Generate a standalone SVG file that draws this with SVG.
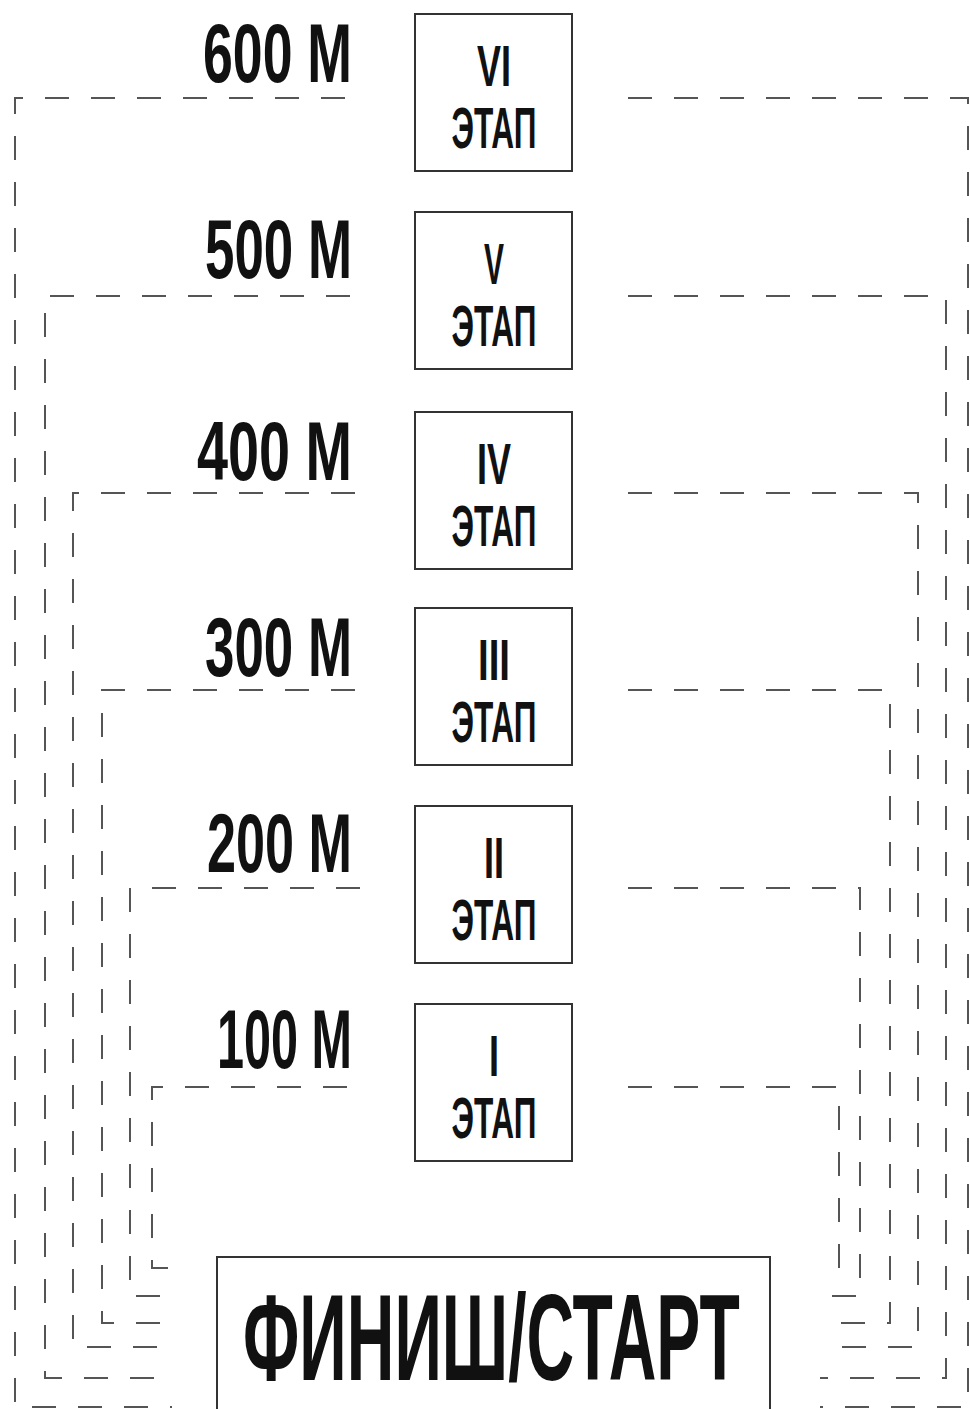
<svg xmlns="http://www.w3.org/2000/svg" width="970" height="1409" viewBox="0 0 970 1409">
<style>
.bg{fill:#fff}
.box{fill:#fff;stroke:#333;stroke-width:2}
.dash{fill:none;stroke:#555;stroke-width:2;stroke-dasharray:24 22}
.t{font-family:"Liberation Sans",Arial,sans-serif;font-weight:bold;fill:#111}
.lbl{font-size:84px;text-anchor:end}
.num{font-size:58px;text-anchor:middle}
.big{font-size:122px}
</style>
<rect class="bg" x="0" y="0" width="970" height="1409"/>
<g id="connectors">
<path class="dash" d="M345,98 H15 V1407 H172"/>
<path class="dash" d="M628,98 H968 V1407 H820"/>
<path class="dash" d="M350,296 H45 V1378 H172"/>
<path class="dash" d="M628,296 H946 V1378 H820"/>
<path class="dash" d="M355,493 H73 V1347 H172"/>
<path class="dash" d="M628,493 H918 V1347 H820"/>
<path class="dash" d="M355,690 H102 V1323 H172"/>
<path class="dash" d="M628,690 H890 V1323 H820"/>
<path class="dash" d="M360,888 H130 V1296 H172"/>
<path class="dash" d="M628,888 H860 V1296 H820"/>
<path class="dash" d="M347,1087 H152 V1268 H172"/>
<path class="dash" d="M628,1087 H839 V1268 H820"/>
</g>
<g id="label600"><text class="t lbl" x="352" y="82" textLength="149" lengthAdjust="spacingAndGlyphs">600 М</text></g>
<g id="label500"><text class="t lbl" x="352" y="278" textLength="147" lengthAdjust="spacingAndGlyphs">500 М</text></g>
<g id="label400"><text class="t lbl" x="352" y="480" textLength="155" lengthAdjust="spacingAndGlyphs">400 М</text></g>
<g id="label300"><text class="t lbl" x="352" y="676" textLength="147" lengthAdjust="spacingAndGlyphs">300 М</text></g>
<g id="label200"><text class="t lbl" x="352" y="872" textLength="145" lengthAdjust="spacingAndGlyphs">200 М</text></g>
<g id="label100"><text class="t lbl" x="352" y="1068" textLength="135" lengthAdjust="spacingAndGlyphs">100 М</text></g>
<g id="stage6">
<rect class="box" x="415" y="14" width="157" height="157"/>
<text class="t num" x="494" y="86" textLength="34" lengthAdjust="spacingAndGlyphs">VI</text>
<text class="t num" x="494" y="148" textLength="85" lengthAdjust="spacingAndGlyphs">ЭТАП</text>
</g>
<g id="stage5">
<rect class="box" x="415" y="212" width="157" height="157"/>
<text class="t num" x="494" y="284" textLength="20" lengthAdjust="spacingAndGlyphs">V</text>
<text class="t num" x="494" y="346" textLength="85" lengthAdjust="spacingAndGlyphs">ЭТАП</text>
</g>
<g id="stage4">
<rect class="box" x="415" y="412" width="157" height="157"/>
<text class="t num" x="494" y="484" textLength="34" lengthAdjust="spacingAndGlyphs">IV</text>
<text class="t num" x="494" y="546" textLength="85" lengthAdjust="spacingAndGlyphs">ЭТАП</text>
</g>
<g id="stage3">
<rect class="box" x="415" y="608" width="157" height="157"/>
<text class="t num" x="494" y="680" textLength="32" lengthAdjust="spacingAndGlyphs">III</text>
<text class="t num" x="494" y="742" textLength="85" lengthAdjust="spacingAndGlyphs">ЭТАП</text>
</g>
<g id="stage2">
<rect class="box" x="415" y="806" width="157" height="157"/>
<text class="t num" x="494" y="878" textLength="20" lengthAdjust="spacingAndGlyphs">II</text>
<text class="t num" x="494" y="940" textLength="85" lengthAdjust="spacingAndGlyphs">ЭТАП</text>
</g>
<g id="stage1">
<rect class="box" x="415" y="1004" width="157" height="157"/>
<text class="t num" x="494" y="1076" textLength="10" lengthAdjust="spacingAndGlyphs">I</text>
<text class="t num" x="494" y="1138" textLength="85" lengthAdjust="spacingAndGlyphs">ЭТАП</text>
</g>
<g id="finish">
<rect class="box" x="217" y="1257" width="553" height="170"/>
<text class="t big" transform="translate(243,1380) scale(0.54,1)" x="0" y="0" textLength="920" lengthAdjust="spacingAndGlyphs">ФИНИШ/СТАРТ</text>
</g>
</svg>
